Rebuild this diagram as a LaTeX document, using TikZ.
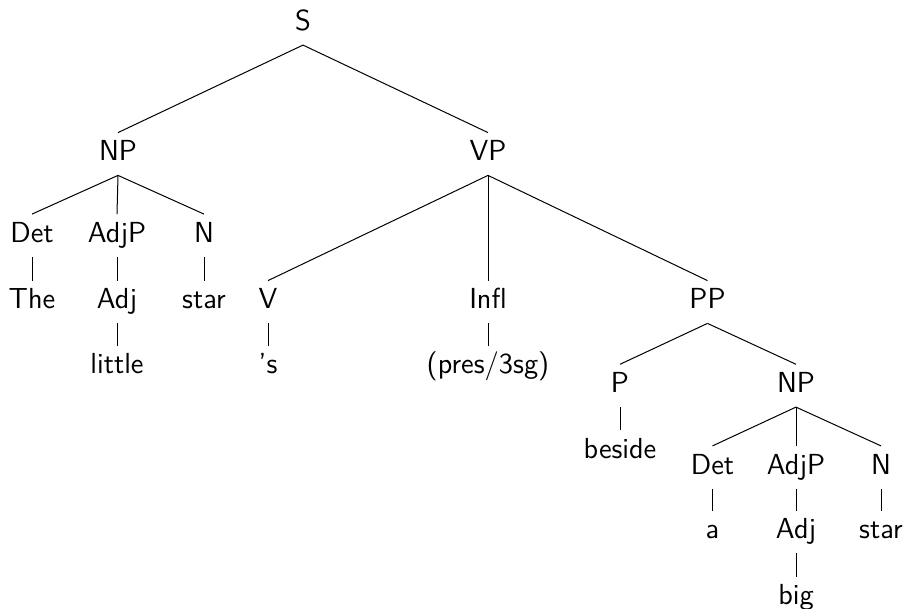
\documentclass[tikz,border=0pt]{standalone}
\begin{document}
\begin{tikzpicture}[x=0.5pt,y=-0.5pt,
  lab/.style={anchor=base, inner sep=0pt, text height=14pt, text depth=7pt,
              font=\sffamily\fontsize{14.5}{17}\selectfont},
  edge/.style={line width=0.5pt}]
\useasboundingbox (0,0) rectangle (907,609);
% nodes
\node[lab] (S)    at (303,30.7) {S};
\node[lab] (NP)   at (118,161) {NP};
\node[lab] (VP)   at (488,161) {VP};
\node[lab] (Det)  at (32,242.5) {Det};
\node[lab] (AdjP) at (117,242.5) {AdjP};
\node[lab] (N)    at (204,242.5) {N};
\node[lab] (The)  at (32,309) {The};
\node[lab] (Adj)  at (117,309) {Adj};
\node[lab] (star) at (204,309) {star};
\node[lab] (little) at (117,374) {little};
\node[lab] (V)    at (268,309) {V};
\node[lab] (Infl) at (488,309) {Infl};
\node[lab] (PP)   at (707.5,309) {PP};
\node[lab] (s)    at (268,374) {'s};
\node[lab] (pres) at (488,374) {(pres/3sg)};
\node[lab] (P)    at (620,392.7) {P};
\node[lab] (NPb)  at (796,392.7) {NP};
\node[lab] (beside) at (620,458.3) {beside};
\node[lab] (Detb)  at (712.5,474.3) {Det};
\node[lab] (AdjPb) at (796,474.3) {AdjP};
\node[lab] (Nb)    at (881,474.3) {N};
\node[lab] (a)     at (712.5,539) {a};
\node[lab] (Adjb)  at (796,539) {Adj};
\node[lab] (starb) at (881,539) {star};
\node[lab] (big)   at (796,605) {big};
% edges
\draw[edge] (NP.north) -- (S.south) -- (VP.north);
\draw[edge] (NP.south) -- (Det.north);
\draw[edge] (NP.south) -- (AdjP.north);
\draw[edge] (NP.south) -- (N.north);
\draw[edge] (Det.south) -- (The.north);
\draw[edge] (AdjP.south) -- (Adj.north);
\draw[edge] (N.south) -- (star.north);
\draw[edge] (Adj.south) -- (little.north);
\draw[edge] (VP.south) -- (V.north);
\draw[edge] (VP.south) -- (Infl.north);
\draw[edge] (VP.south) -- (PP.north);
\draw[edge] (V.south) -- (s.north);
\draw[edge] (Infl.south) -- (pres.north);
\draw[edge] (PP.south) -- (P.north);
\draw[edge] (PP.south) -- (NPb.north);
\draw[edge] (P.south) -- (beside.north);
\draw[edge] (NPb.south) -- (Detb.north);
\draw[edge] (NPb.south) -- (AdjPb.north);
\draw[edge] (NPb.south) -- (Nb.north);
\draw[edge] (Detb.south) -- (a.north);
\draw[edge] (AdjPb.south) -- (Adjb.north);
\draw[edge] (Nb.south) -- (starb.north);
\draw[edge] (Adjb.south) -- (big.north);
\end{tikzpicture}
\end{document}
